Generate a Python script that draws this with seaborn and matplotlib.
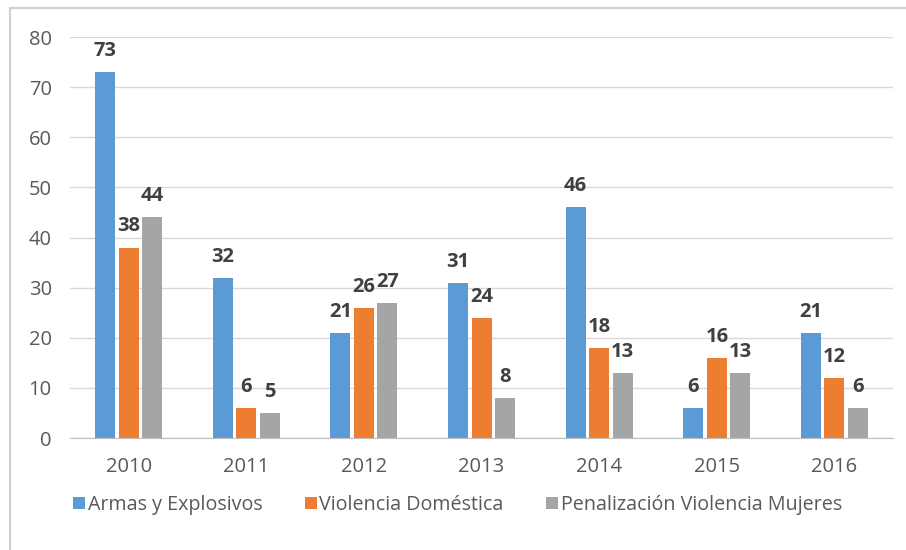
import matplotlib
matplotlib.use("Agg")
import matplotlib.pyplot as plt
import seaborn as sns
import pandas as pd
from matplotlib.patches import Rectangle

years = ["2010", "2011", "2012", "2013", "2014", "2015", "2016"]
armas = [73, 32, 21, 31, 46, 6, 21]
violencia = [38, 6, 26, 24, 18, 16, 12]
penalizacion = [44, 5, 27, 8, 13, 13, 6]
series_names = ["Armas y Explosivos", "Violencia Doméstica", "Penalización Violencia Mujeres"]
colors = ["#5B9BD5", "#ED7D31", "#A5A5A5"]

rows = []
for name, vals in zip(series_names, [armas, violencia, penalizacion]):
    for y, v in zip(years, vals):
        rows.append({"Año": y, "Serie": name, "Valor": v})
df = pd.DataFrame(rows)

sns.set_style("white")
plt.rcParams["font.family"] = ["Open Sans", "DejaVu Sans"]

fig = plt.figure(figsize=(9.06, 5.5), dpi=100)
ax = fig.add_axes([0.077, 0.2036, 0.909, 0.7291])

sns.barplot(data=df, x="Año", y="Valor", hue="Serie", palette=colors,
            width=0.6, gap=0.15, ax=ax, errorbar=None, saturation=1, linewidth=0)

for cont in ax.containers:
    ax.bar_label(cont, padding=8, fontsize=14.5, fontweight="bold", color="#404040")

ax.set_ylim(0, 80)
ax.set_yticks(range(0, 81, 10))
ax.set_xlim(-0.5, 6.5)
ax.grid(axis="y", color="#D9D9D9", linewidth=1)
ax.set_axisbelow(True)
for s in ["top", "right", "left"]:
    ax.spines[s].set_visible(False)
ax.spines["bottom"].set_color("#BFBFBF")
ax.tick_params(axis="both", length=0, labelsize=14.5, colors="#595959")
ax.tick_params(axis="y", pad=13)
ax.tick_params(axis="x", pad=14)
ax.set_xlabel("")
ax.set_ylabel("")

leg = ax.legend(loc="center left", bbox_to_anchor=(0.0036, -0.167), ncol=3, frameon=False,
                prop={"size": 14.2}, borderpad=0, borderaxespad=0,
                handlelength=0.6, handleheight=0.6, handletextpad=0.15,
                columnspacing=2.15, labelcolor="#595959")

fig.patches.append(Rectangle((10 / 906, -0.05), 1.0, 1 - 8 / 550 + 0.05,
                             transform=fig.transFigure, fill=False,
                             edgecolor="#D0D0D0", linewidth=1.5))

fig.savefig("out.png", dpi=100)
